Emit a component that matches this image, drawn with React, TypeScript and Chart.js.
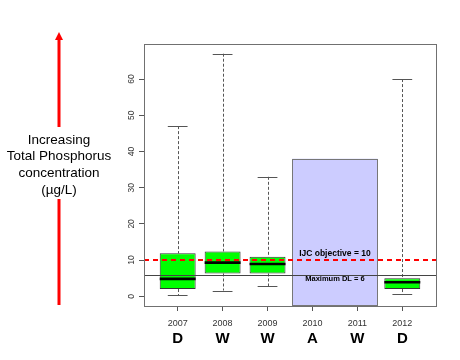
import React, { useEffect, useRef } from 'react';
import { Chart, registerables } from 'chart.js';

Chart.register(...registerables);

const years = ['2007', '2008', '2009', '2010', '2011', '2012'];
const yearClass = ['D', 'W', 'W', 'A', 'W', 'D'];
const boxPositions = [1, 2, 3, 6];
const boxQ1 = [2.0, 6.3, 6.3, 2.0];
const boxMedian = [4.8, 9.3, 8.9, 3.9];
const boxQ3 = [11.9, 12.4, 10.9, 5.0];
const whiskerLow = [0.3, 1.6, 2.8, 0.6];
const whiskerHigh = [47, 67, 33, 60];
const yTicks = [0, 10, 20, 30, 40, 50, 60];
const ijcObjective = 10;
const maxDL = 6;
const gapRange = [3.55, 5.45];
const gapValues = [-2.4, 38];
const yAxisRange = [-2.68, 69.68];
const xAxisRange = [0.25, 6.75];
const sideLabel = ['Increasing', 'Total Phosphorus', 'concentration', '(\u00b5g/L)'];

const FONT = '"Liberation Sans", Arial, Helvetica, sans-serif';

const extrasPlugin = {
  id: 'boxExtras',
  beforeDatasetsDraw(chart: any) {
    const { ctx } = chart;
    const x = chart.scales.x;
    const y = chart.scales.y;
    ctx.save();
    // no-data rectangle
    const l = x.getPixelForValue(gapRange[0]);
    const r = x.getPixelForValue(gapRange[1]);
    const t = y.getPixelForValue(gapValues[1]);
    const b = y.getPixelForValue(gapValues[0]);
    ctx.fillStyle = '#CCCCFF';
    ctx.fillRect(l, t, r - l, b - t);
    ctx.strokeStyle = '#777777';
    ctx.lineWidth = 1;
    ctx.strokeRect(Math.round(l) + 0.5, Math.round(t) + 0.5, Math.round(r - l), Math.round(b - t));
    // whiskers
    boxPositions.forEach((p, i) => {
      const cx = Math.round(x.getPixelForValue(p)) + 0.5;
      ctx.strokeStyle = '#555555';
      ctx.lineWidth = 1;
      ctx.setLineDash([3, 2]);
      ctx.beginPath();
      ctx.moveTo(cx, y.getPixelForValue(whiskerHigh[i]));
      ctx.lineTo(cx, y.getPixelForValue(boxQ3[i]));
      ctx.moveTo(cx, y.getPixelForValue(boxQ1[i]));
      ctx.lineTo(cx, y.getPixelForValue(whiskerLow[i]));
      ctx.stroke();
      ctx.setLineDash([]);
      const cl = x.getPixelForValue(p - 0.22);
      const cr = x.getPixelForValue(p + 0.22);
      ctx.beginPath();
      [whiskerHigh[i], whiskerLow[i]].forEach((v) => {
        const yy = Math.round(y.getPixelForValue(v)) + 0.5;
        ctx.moveTo(cl, yy);
        ctx.lineTo(cr, yy);
      });
      ctx.stroke();
    });
    ctx.restore();
  },
  afterDatasetsDraw(chart: any) {
    const { ctx, chartArea } = chart;
    const x = chart.scales.x;
    const y = chart.scales.y;
    ctx.save();
    // medians
    boxPositions.forEach((p, i) => {
      const yy = y.getPixelForValue(boxMedian[i]);
      ctx.strokeStyle = '#000000';
      ctx.lineWidth = 2.6;
      ctx.beginPath();
      ctx.moveTo(x.getPixelForValue(p - 0.4), yy);
      ctx.lineTo(x.getPixelForValue(p + 0.4), yy);
      ctx.stroke();
    });
    // max detection limit line
    const yDL = Math.round(y.getPixelForValue(maxDL)) + 0.5;
    ctx.strokeStyle = '#444444';
    ctx.lineWidth = 1;
    ctx.beginPath();
    ctx.moveTo(chartArea.left, yDL);
    ctx.lineTo(chartArea.right, yDL);
    ctx.stroke();
    // IJC objective line
    const yIJC = y.getPixelForValue(ijcObjective);
    ctx.strokeStyle = '#FF0000';
    ctx.lineWidth = 2;
    ctx.setLineDash([5, 4]);
    ctx.beginPath();
    ctx.moveTo(chartArea.left, yIJC);
    ctx.lineTo(chartArea.right, yIJC);
    ctx.stroke();
    ctx.setLineDash([]);
    // labels
    const lx = x.getPixelForValue((gapRange[0] + gapRange[1]) / 2);
    ctx.fillStyle = '#000000';
    ctx.textAlign = 'center';
    ctx.textBaseline = 'middle';
    ctx.font = 'bold 8.5px ' + FONT;
    ctx.fillText('IJC objective = ' + ijcObjective, lx, yIJC - 6.5);
    ctx.font = 'bold 7.5px ' + FONT;
    ctx.fillText('Maximum DL = ' + maxDL, lx, yDL + 3.5);
    ctx.restore();
  },
  afterDraw(chart: any) {
    const { ctx, chartArea } = chart;
    ctx.save();
    ctx.strokeStyle = '#707070';
    ctx.lineWidth = 1;
    ctx.strokeRect(
      Math.round(chartArea.left) + 0.5,
      Math.round(chartArea.top) + 0.5,
      Math.round(chartArea.right - chartArea.left),
      Math.round(chartArea.bottom - chartArea.top)
    );
    // side annotation
    const ax = 59;
    ctx.strokeStyle = '#FF0000';
    ctx.fillStyle = '#FF0000';
    ctx.lineWidth = 3;
    ctx.beginPath();
    ctx.moveTo(ax, 38);
    ctx.lineTo(ax, 127);
    ctx.moveTo(ax, 199);
    ctx.lineTo(ax, 305);
    ctx.stroke();
    ctx.beginPath();
    ctx.moveTo(ax, 32);
    ctx.lineTo(ax - 4, 40);
    ctx.lineTo(ax + 4, 40);
    ctx.closePath();
    ctx.fill();
    ctx.fillStyle = '#000000';
    ctx.font = '13.5px ' + FONT;
    ctx.textAlign = 'center';
    ctx.textBaseline = 'middle';
    sideLabel.forEach((s, i) => {
      ctx.fillText(s, ax, 140 + i * 16.6);
    });
    ctx.restore();
  },
};

export default function App() {
  const ref = useRef<HTMLCanvasElement | null>(null);
  useEffect(() => {
    if (!ref.current) return;
    const chart = new Chart(ref.current, {
      type: 'bar',
      data: {
        datasets: [
          {
            data: boxPositions.map((p, i) => ({ x: p, y: [boxQ1[i], boxQ3[i]] })) as any,
            backgroundColor: '#00FF00',
            borderColor: '#333333',
            borderWidth: 1,
            borderSkipped: false,
            barPercentage: 0.8,
            categoryPercentage: 1,
            xAxisID: 'x',
            yAxisID: 'y',
          },
        ],
      },
      options: {
        responsive: false,
        animation: false,
        events: [],
        layout: { padding: { left: 114, top: 44, right: 24, bottom: 14 } },
        plugins: { legend: { display: false }, tooltip: { enabled: false }, title: { display: false } },
        scales: {
          x: {
            type: 'linear',
            position: 'bottom',
            offset: false,
            min: xAxisRange[0],
            max: xAxisRange[1],
            weight: 0,
            afterBuildTicks: (a: any) => {
              a.ticks = years.map((_, i) => ({ value: i + 1 }));
            },
            afterFit: (a: any) => {
              a.height = 22;
            },
            border: { display: false },
            grid: { offset: false, drawOnChartArea: false, drawTicks: true, tickLength: 5, color: '#555555' },
            ticks: {
              callback: (v: any) => years[Number(v) - 1],
              font: { family: FONT, size: 9 },
              color: '#333333',
              padding: 7,
              maxRotation: 0,
              autoSkip: false,
            },
          },
          x2: {
            type: 'linear',
            position: 'bottom',
            offset: false,
            min: xAxisRange[0],
            max: xAxisRange[1],
            weight: 10,
            afterBuildTicks: (a: any) => {
              a.ticks = yearClass.map((_, i) => ({ value: i + 1 }));
            },
            afterFit: (a: any) => {
              a.height = 18;
            },
            border: { display: false },
            grid: { display: false, offset: false },
            ticks: {
              callback: (v: any) => yearClass[Number(v) - 1],
              font: { family: FONT, size: 15, weight: 'bold' },
              color: '#000000',
              padding: -6,
              maxRotation: 0,
              autoSkip: false,
            },
          },
          y: {
            type: 'linear',
            min: yAxisRange[0],
            max: yAxisRange[1],
            afterBuildTicks: (a: any) => {
              a.ticks = yTicks.map((v) => ({ value: v }));
            },
            afterFit: (a: any) => {
              a.width = 30;
            },
            border: { display: false },
            grid: { drawOnChartArea: false, drawTicks: true, tickLength: 5, color: '#555555' },
            ticks: {
              minRotation: 90,
              maxRotation: 90,
              crossAlign: 'center',
              padding: 3,
              font: { family: FONT, size: 8.5 },
              color: '#333333',
            },
          },
        },
      },
      plugins: [extrasPlugin],
    } as any);
    return () => chart.destroy();
  }, []);
  return (
    <div style={{ position: 'fixed', left: 0, top: 0, width: 460, height: 360, background: '#ffffff' }}>
      <canvas ref={ref} width={460} height={360} style={{ display: 'block' }} />
    </div>
  );
}
